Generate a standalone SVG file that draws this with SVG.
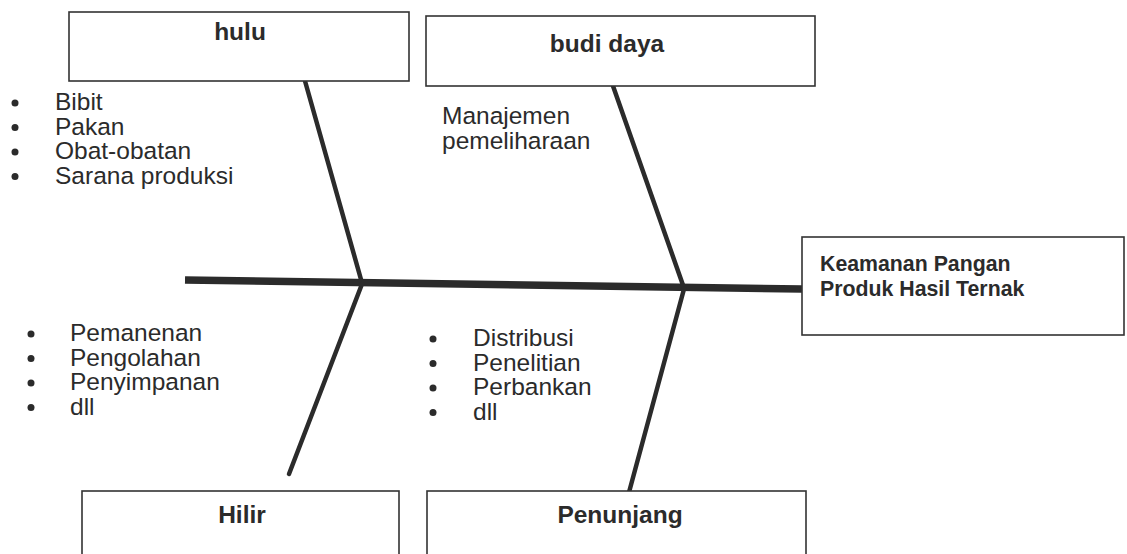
<svg xmlns="http://www.w3.org/2000/svg" width="1127" height="554" viewBox="0 0 1127 554">
<style>
.box{fill:#fff;stroke:#333;stroke-width:1.6}
.hd{font-family:"Liberation Sans",Arial,sans-serif;font-weight:bold;font-size:24.5px;fill:#2b2b2b;text-anchor:middle}
.tx{font-family:"Liberation Sans",Arial,sans-serif;font-size:24.5px;fill:#2b2b2b}
.tb{font-family:"Liberation Sans",Arial,sans-serif;font-weight:bold;font-size:21.3px;fill:#2b2b2b}
.bone{stroke:#2b2b2b;stroke-width:4.5;stroke-linecap:round;fill:none}
.spine{stroke:#2b2b2b;stroke-width:7.5;fill:none}
.dot{fill:#2b2b2b}
</style>
<rect width="1127" height="554" fill="#fff"/>
<g id="connectors">
<path class="spine" d="M185 280 L802 289"/>
<path class="bone" d="M305 81 L362 283"/>
<path class="bone" d="M613 86 L684 288"/>
<path class="bone" d="M362 284 L289 474"/>
<path class="bone" d="M684 289 L628 496"/>
</g>
<g id="node-hulu">
<rect class="box" x="69" y="12" width="340" height="69"/>
<text class="hd" x="240" y="40">hulu</text>
</g>
<g id="node-budidaya">
<rect class="box" x="426" y="16" width="389" height="70"/>
<text class="hd" x="607" y="52">budi daya</text>
</g>
<g id="node-keamanan">
<rect class="box" x="802" y="237" width="322" height="98"/>
<text class="tb" x="820" y="271">Keamanan Pangan</text>
<text class="tb" x="820" y="296">Produk Hasil Ternak</text>
</g>
<g id="node-hilir">
<rect class="box" x="82" y="491" width="317" height="80"/>
<text class="hd" x="242" y="523">Hilir</text>
</g>
<g id="node-penunjang">
<rect class="box" x="427" y="491" width="379" height="80"/>
<text class="hd" x="620" y="523">Penunjang</text>
</g>
<g id="list-hulu">
<circle class="dot" cx="15" cy="103" r="3.5"/>
<circle class="dot" cx="15" cy="127.5" r="3.5"/>
<circle class="dot" cx="15" cy="152" r="3.5"/>
<circle class="dot" cx="15" cy="176.5" r="3.5"/>
<text class="tx" x="55" y="110">Bibit</text>
<text class="tx" x="55" y="134.5">Pakan</text>
<text class="tx" x="55" y="159">Obat-obatan</text>
<text class="tx" x="55" y="183.5">Sarana produksi</text>
</g>
<g id="list-budidaya">
<text class="tx" x="442" y="124">Manajemen</text>
<text class="tx" x="442" y="149">pemeliharaan</text>
</g>
<g id="list-hilir">
<circle class="dot" cx="31" cy="334" r="3.5"/>
<circle class="dot" cx="31" cy="358.5" r="3.5"/>
<circle class="dot" cx="31" cy="383" r="3.5"/>
<circle class="dot" cx="31" cy="407.5" r="3.5"/>
<text class="tx" x="70" y="341">Pemanenan</text>
<text class="tx" x="70" y="365.5">Pengolahan</text>
<text class="tx" x="70" y="390">Penyimpanan</text>
<text class="tx" x="70" y="414.5">dll</text>
</g>
<g id="list-penunjang">
<circle class="dot" cx="433" cy="339" r="3.5"/>
<circle class="dot" cx="433" cy="363.5" r="3.5"/>
<circle class="dot" cx="433" cy="388" r="3.5"/>
<circle class="dot" cx="433" cy="412.5" r="3.5"/>
<text class="tx" x="473" y="346">Distribusi</text>
<text class="tx" x="473" y="370.5">Penelitian</text>
<text class="tx" x="473" y="395">Perbankan</text>
<text class="tx" x="473" y="419.5">dll</text>
</g>
</svg>
